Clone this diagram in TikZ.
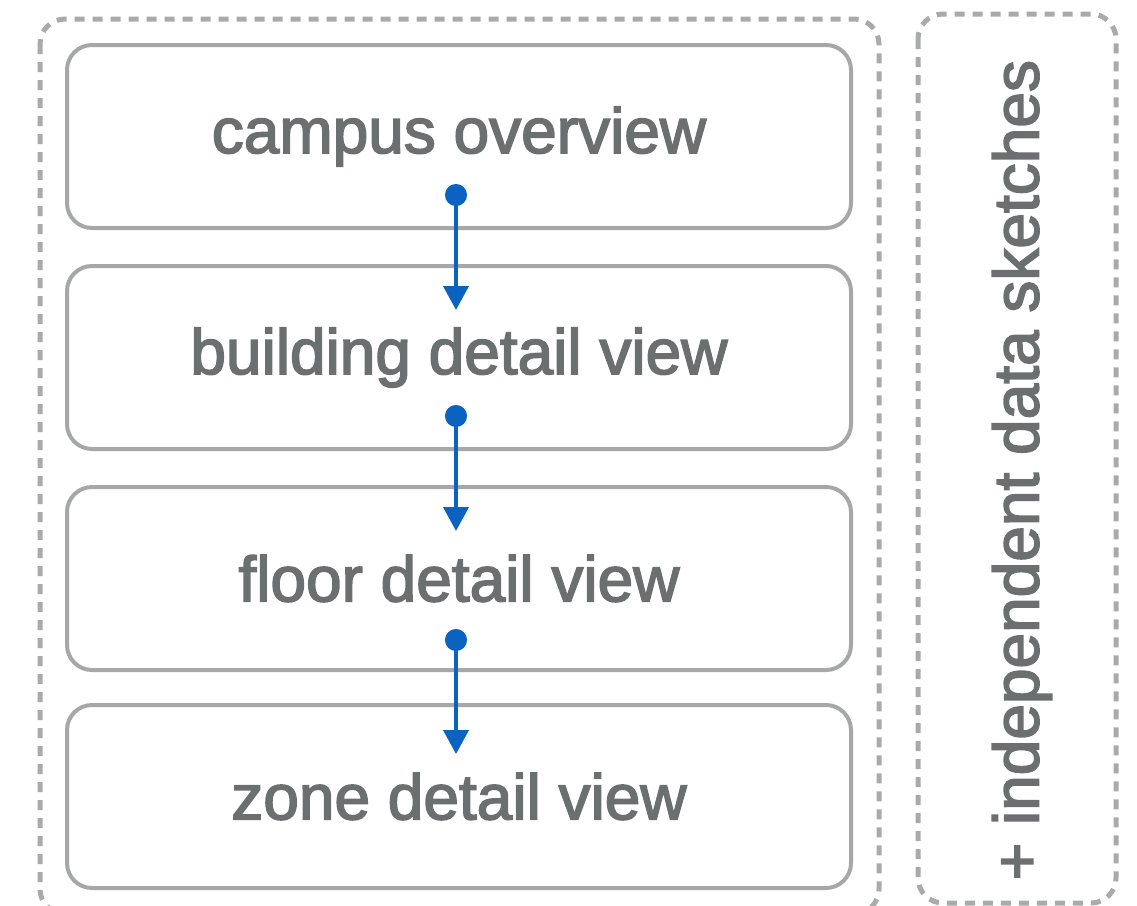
\documentclass[tikz,border=0pt]{standalone}
\usepackage{fontspec}
\setmainfont[FakeBold=2.5]{Liberation Sans}
\usepackage{tikz}
\usetikzlibrary{arrows.meta}

\definecolor{labelgray}{HTML}{6C6F70}
\definecolor{boxgray}{HTML}{A6A8A8}
\definecolor{dashgray}{HTML}{A9ABAB}
\definecolor{linkblue}{HTML}{0B63C1}

\begin{document}
\begin{tikzpicture}
[x=1pt,y=-1pt,
  view node/.style={draw=boxgray,line width=4pt,rounded corners=25pt,
    minimum width=784pt,minimum height=183pt,text=labelgray,
    font=\fontsize{64}{70}\selectfont},
  group box/.style={draw=dashgray,line width=5pt,dash pattern=on 10pt off 8pt,
    rounded corners=25pt},
  link/.style={draw=linkblue,line width=4pt,
    {Circle[length=22pt]}-{Triangle[length=24pt,width=25pt]}}]
  \clip (0,0) rectangle (1137,905);

  \draw[group box] (40,19) rectangle (879,914);
  \draw[group box] (918,14) rectangle (1116,903);

  \node[view node] (campus) at 	(459,136.5) {campus overview};
  \node[view node] (building) at 	(459,357.5) {building detail view};
  \node[view node] (floor) at 		(459,578.5) {floor detail view};
  \node[view node] (zone) at 		(459,796.5) {zone detail view};

%   \node (extra) at (1017,470) {};
  \node[rotate=90,text=labelgray,font=\fontsize{64}{70}\selectfont]
    (sketches) at (1022,470) {+ independent data sketches};

   \foreach \from/\to/\a/\b in {campus/building/46/46,
      building/floor/46/46,
      floor/zone/43/51}
     \draw[link] ([xshift=-3pt,yshift=\a pt]\from.south) -- ([xshift=-3pt,yshift=-\b pt]\to.north);

\end{tikzpicture}
\end{document}
